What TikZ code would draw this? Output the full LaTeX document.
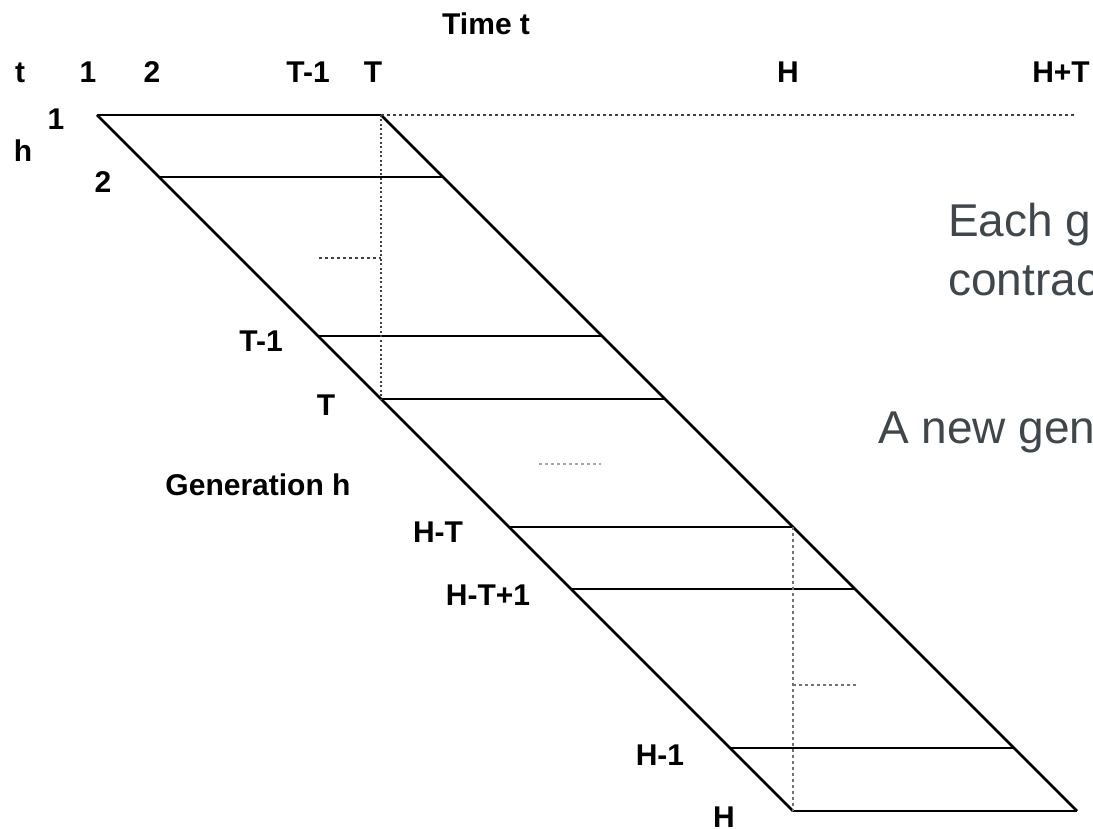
\documentclass[tikz,border=0pt]{standalone}
\usepackage{fontspec}
\setmainfont{Liberation Sans}
\definecolor{slate}{HTML}{40474C}
\begin{document}
\begin{tikzpicture}[x=1pt,y=-1pt,
  lab/.style={font=\fontsize{30}{36}\selectfont\bfseries, inner sep=0pt, anchor=base},
  note/.style={font=\fontsize{46}{55}\selectfont, text=slate, inner sep=0pt, anchor=base west},
  edge/.style={line width=2.5pt},
  guide/.style={line width=1.2pt, dash pattern=on 3pt off 3pt}]
\useasboundingbox (0,0) rectangle (1093,829);
\clip (0,0) rectangle (1093,829);
\foreach \y [count=\i] in {115,177,336,399,527,589,748,811}
  {\coordinate (L\i) at ({97+\y-115},\y);
   \coordinate (R\i) at ({381+\y-115},\y);
   \draw[edge] (L\i)--(R\i);}
\draw[edge] (L1)--(L8);
\draw[edge] (R1)--(R8);
\coordinate (tail) at (1075,115);
\coordinate (dashA) at (319,258);
\coordinate (dashB) at (381,258);
\coordinate (dashC) at (539,464);
\coordinate (dashD) at (601,464);
\coordinate (dashE) at (793,685);
\coordinate (dashF) at (856,685);
\draw[guide, black!75] (R1)--(tail);
\draw[guide, black!75, dash pattern=on 2pt off 2.5pt] (R1)--(L4);
\draw[guide, black!75] (dashA)--(dashB);
\draw[guide, black!35] (dashC)--(dashD);
\draw[guide, black!55] (R5)--(L8);
\draw[guide, black!55] (dashE)--(dashF);
\node[lab, anchor=base west] (time) at (442,35) {Time t};
\node[lab] (ta) at (20,83) {t};
\node[lab] (t1) at (88,83) {1};
\node[lab] (t2) at (152,83) {2};
\node[lab] (tTm) at (308,83) {T-1};
\node[lab] (tT) at (373,83) {T};
\node[lab] (tH) at (788,83) {H};
\node[lab] (tHT) at (1061,83) {H+T};
\node[lab] (h1) at (56,130) {1};
\node[lab] (hh) at (23,162) {h};
\node[lab] (h2) at (103,193) {2};
\node[lab] (hTm) at (261,352) {T-1};
\node[lab] (hT) at (326,415) {T};
\node[lab] (gen) at (258,495) {Generation h};
\node[lab] (hHT) at (438,542) {H-T};
\node[lab] (hHT1) at (488,605) {H-T+1};
\node[lab] (hHm) at (660,765) {H-1};
\node[lab] (hH) at (724,827) {H};
\node[note] (each) at (948,237) {Each g};
\node[note] (contract) at (948,295) {contrac};
\node[note] (newgen) at (878,443) {A new gen};
\end{tikzpicture}
\end{document}
